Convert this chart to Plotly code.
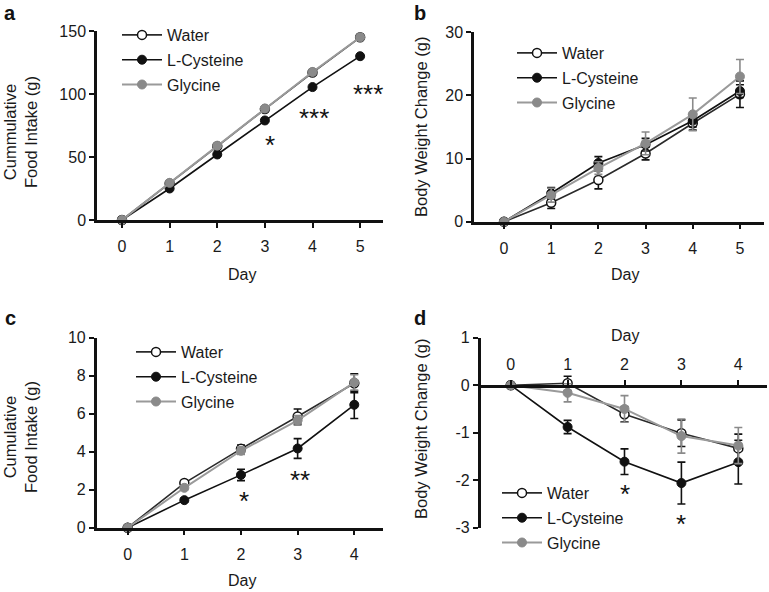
import plotly.graph_objects as go

# ---------------- data ----------------
days_ab = [0, 1, 2, 3, 4, 5]
days_cd = [0, 1, 2, 3, 4]
series_names = ["Water", "L-Cysteine", "Glycine"]
d_yticks = [-3, -2, -1, 0, 1]
d_yticklabels = ["-3", "-2", "-1", "0", "1"]

# panel a: cumulative food intake (g)
a_water = [0, 29, 58.5, 88, 117, 145]
a_cys = [0, 25, 52, 79, 105.5, 130]
a_gly = [0, 29.5, 59, 88.5, 117.5, 145]

# panel b: body weight change (g)
b_water = [0, 3.0, 6.6, 10.8, 15.6, 20.2]
b_water_err = [0, 0.9, 1.4, 1.0, 1.1, 2.1]
b_cys = [0, 4.5, 9.3, 12.2, 16.0, 20.7]
b_cys_err = [0, 0.9, 1.0, 1.0, 1.0, 1.0]
b_gly = [0, 4.2, 8.5, 12.4, 17.0, 23.0]
b_gly_err = [0, 1.1, 1.0, 1.8, 2.6, 2.7]

# panel c: cumulative food intake (g)
c_water = [0, 2.35, 4.15, 5.85, 7.6]
c_water_err = [0, 0.1, 0.2, 0.4, 0.5]
c_cys = [0, 1.45, 2.78, 4.17, 6.47]
c_cys_err = [0, 0.1, 0.3, 0.52, 0.72]
c_gly = [0, 2.1, 4.05, 5.65, 7.65]
c_gly_err = [0, 0.1, 0.2, 0.25, 0.4]

# panel d: body weight change (g)
d_water = [0, 0.04, -0.61, -1.01, -1.33]
d_water_err = [0, 0.15, 0.16, 0.28, 0.3]
d_cys = [0, -0.88, -1.61, -2.06, -1.62]
d_cys_err = [0, 0.14, 0.27, 0.44, 0.46]
d_gly = [0, -0.16, -0.5, -1.07, -1.27]
d_gly_err = [0, 0.19, 0.28, 0.36, 0.38]

# significance marks (day, y, text)
a_sig = [(3.1, 59.5, "*"), (4.03, 81, "***"), (5.17, 99.8, "***")]
c_sig = [(2.05, 1.43, "*"), (3.05, 2.53, "**")]
d_sig = [(2, -2.29, "*"), (3, -2.92, "*")]

# ---------------- styling ----------------
FONT = "Liberation Sans, Arial, sans-serif"
BLACK = "#111111"
DARK = "#2a2a2a"
GRAY = "#8a8a8a"
GRAYLINE = "#9a9a9a"

styles = {
    "Water": dict(line=dict(color=DARK, width=1.6),
                  marker=dict(symbol="circle", size=9, color="white",
                              line=dict(color=BLACK, width=1.5))),
    "L-Cysteine": dict(line=dict(color=BLACK, width=1.6),
                       marker=dict(symbol="circle", size=9, color=BLACK,
                                   line=dict(color=BLACK, width=1))),
    "Glycine": dict(line=dict(color=GRAYLINE, width=2),
                    marker=dict(symbol="circle", size=9, color=GRAY,
                                line=dict(color=GRAY, width=1))),
}
err_color = {"Water": BLACK, "L-Cysteine": BLACK, "Glycine": GRAY}

fig = go.Figure()


def add_panel(idx, x, ys, errs, legend_name):
    xa = "x" if idx == 1 else f"x{idx}"
    ya = "y" if idx == 1 else f"y{idx}"
    for name, y, e in zip(series_names, ys, errs):
        kw = {}
        if e is not None:
            kw["error_y"] = dict(type="data", array=e, visible=True,
                                 color=err_color[name], thickness=1.6, width=4)
        fig.add_trace(go.Scatter(
            x=x, y=y, mode="lines+markers", name=name,
            xaxis=xa, yaxis=ya, legend=legend_name,
            legendgroup=f"{legend_name}_{name}",
            cliponaxis=False, **styles[name], **kw))


add_panel(1, days_ab, [a_water, a_cys, a_gly], [None, None, None], "legend")
add_panel(2, days_ab, [b_water, b_cys, b_gly], [b_water_err, b_cys_err, b_gly_err], "legend2")
add_panel(3, days_cd, [c_water, c_cys, c_gly], [c_water_err, c_cys_err, c_gly_err], "legend3")
add_panel(4, days_cd, [d_water, d_cys, d_gly], [d_water_err, d_cys_err, d_gly_err], "legend4")

W, H = 769, 592


def px_x(p):
    return p / W


def px_y(p):
    return 1 - p / H


axis_common = dict(showline=True, linecolor=BLACK, linewidth=2.5, ticks="outside",
                   ticklen=5, tickwidth=2, tickcolor=BLACK, showgrid=False,
                   zeroline=False, automargin=False,
                   tickfont=dict(family=FONT, size=16, color="#1a1a1a"),
                   fixedrange=True)

fig.update_layout(
    xaxis=dict(domain=[px_x(97), px_x(383)], range=[-0.525, 5.48], anchor="y",
               tickvals=days_ab, ticklabelstandoff=5, **axis_common),
    yaxis=dict(domain=[px_y(220), px_y(31)], range=[0, 150], anchor="x",
               tickvals=[0, 50, 100, 150], **axis_common),
    xaxis2=dict(domain=[px_x(474), px_x(764)], range=[-0.636, 5.51], anchor="y2",
                tickvals=days_ab, ticklabelstandoff=5, **axis_common),
    yaxis2=dict(domain=[px_y(221.7), px_y(32.3)], range=[0, 30], anchor="x2",
                tickvals=[0, 10, 20, 30], **axis_common),
    xaxis3=dict(domain=[px_x(96.7), px_x(383)], range=[-0.547, 4.507], anchor="y3",
                tickvals=days_cd, ticklabelstandoff=5, **axis_common),
    yaxis3=dict(domain=[px_y(527.7), px_y(337.7)], range=[0, 10], anchor="x3",
                tickvals=[0, 2, 4, 6, 8, 10], **axis_common),
    xaxis4=dict(domain=[px_x(480.7), px_x(767)], range=[-0.527, 4.504], anchor="free",
                position=px_y(385.7), side="top", tickvals=days_cd,
                ticklabelstandoff=4, **axis_common),
    yaxis4=dict(domain=[px_y(527.7), px_y(337.7)], range=[-3, 1], anchor="x4",
                tickvals=d_yticks, ticktext=d_yticklabels, **axis_common),
)

legend_common = dict(xanchor="left", yanchor="top", bgcolor="rgba(0,0,0,0)",
                     font=dict(family=FONT, size=16, color="#1a1a1a"),
                     itemwidth=40, tracegroupgap=1, borderwidth=0)
fig.update_layout(
    legend=dict(x=px_x(117), y=px_y(18), **legend_common),
    legend2=dict(x=px_x(512), y=px_y(36), **legend_common),
    legend3=dict(x=px_x(131), y=px_y(335), **legend_common),
    legend4=dict(x=px_x(497), y=px_y(476), **legend_common),
)

annotations = []
for txt, x, y in [("a", 10, 13), ("b", 420, 13), ("c", 10, 318), ("d", 420, 318)]:
    annotations.append(dict(text=f"<b>{txt}</b>", x=px_x(x), y=px_y(y), xref="paper",
                            yref="paper", showarrow=False, xanchor="center",
                            yanchor="middle", font=dict(family=FONT, size=20, color=BLACK)))
for x, y in [(242, 275), (625, 275), (242, 580), (625, 335)]:
    annotations.append(dict(text="Day", x=px_x(x), y=px_y(y), xref="paper", yref="paper",
                            showarrow=False, xanchor="center", yanchor="middle",
                            font=dict(family=FONT, size=16, color="#1a1a1a")))
for txt, x, y in [("Cummulative<br>Food Intake (g)", 20, 132),
                  ("Body Weight Change (g)", 421, 127),
                  ("Cumulative<br>Food Intake (g)", 20, 437),
                  ("Body Weight Change (g)", 421, 429)]:
    annotations.append(dict(text=txt, x=px_x(x), y=px_y(y), xref="paper", yref="paper",
                            showarrow=False, xanchor="center", yanchor="middle",
                            textangle=-90, font=dict(family=FONT, size=16.5, color="#1a1a1a")))
for xr, yr, marks in [("x", "y", a_sig), ("x3", "y3", c_sig), ("x4", "y4", d_sig)]:
    for dx, dy, t in marks:
        annotations.append(dict(text=t, x=dx, y=dy, xref=xr, yref=yr, showarrow=False,
                                xanchor="center", yanchor="middle",
                                font=dict(family=FONT, size=26, color=BLACK)))

fig.update_layout(
    width=W, height=H, margin=dict(l=0, r=0, t=0, b=0),
    paper_bgcolor="white", plot_bgcolor="white",
    annotations=annotations, showlegend=True,
    font=dict(family=FONT, color="#1a1a1a"),
)

fig.write_html("out.html", config={"displayModeBar": False},
               post_script="document.body.style.margin='0px';document.body.style.overflow='hidden';")
